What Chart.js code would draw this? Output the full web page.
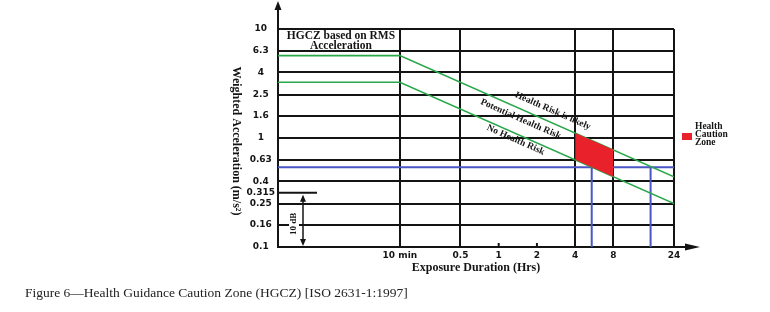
<!DOCTYPE html>
<html>
<head>
<meta charset="utf-8">
<script src="https://cdn.jsdelivr.net/npm/chart.js@4.4.1/dist/chart.umd.min.js"></script>
<style>
  html, body { margin: 0; padding: 0; background: #fff; }
  #wrap { width: 770px; height: 312px; }
</style>
</head>
<body>
<div id="wrap"><canvas id="hgczChart" width="770" height="312"></canvas></div>
<script>
// ticks: exposure duration in hours, weighted acceleration in m/s^2
const xTickValues = [10 / 60, 0.5, 1, 2, 4, 8, 24];
const xTickLabels = ['10 min', '0.5', '1', '2', '4', '8', '24'];
const yTickValues = [0.1, 0.16, 0.25, 0.315, 0.4, 0.63, 1, 1.6, 2.5, 4, 6.3, 10];
const yTickLabels = ['0.1', '0.16', '0.25', '0.315', '0.4', '0.63', '1', '1.6', '2.5', '4', '6.3', '10'];
const xMin = 0.0183;
const xMax = 24;

// HGCZ boundaries
const upperHours = [xMin, 10 / 60, 24];
const upperAccel = [5.7, 5.7, 0.44];
const lowerHours = [xMin, 10 / 60, 24];
const lowerAccel = [3.25, 3.25, 0.25];

// caution zone between 4 and 8 hours
const zoneHours = [4, 8];
const zoneTop = [1.11, 0.78];
const zoneBottom = [0.63, 0.44];

// blue reference level and where it meets the two boundaries
const refAccel = 0.54;
const refHours = [5.4, 15.7];

const riskLabels = ['Health Risk is likely', 'Potential Health Risk', 'No Health Risk'];

const pts = (xs, ys) => xs.map((x, i) => ({ x: x, y: ys[i] }));
const green = '#2aa74a';
const blue = '#4a55c6';
const ink = '#141414';

const lineSet = (label, data, color, width) => ({
    label: label,
    data: data,
    borderColor: color,
    borderWidth: width,
    pointRadius: 0,
    fill: false,
    tension: 0
});

const decor = {
    id: 'decor',
    afterDatasetsDraw(chart) {
        const { ctx, chartArea: a, scales: { x, y } } = chart;
        ctx.save();
        ctx.strokeStyle = ink;
        ctx.fillStyle = ink;
        ctx.lineWidth = 2;

        // axis arrows
        ctx.beginPath();
        ctx.moveTo(a.left, a.top);
        ctx.lineTo(a.left, 8);
        ctx.moveTo(a.right, a.bottom);
        ctx.lineTo(a.right + 14, a.bottom);
        ctx.stroke();
        ctx.beginPath();
        ctx.moveTo(a.left, 1);
        ctx.lineTo(a.left - 3.5, 10);
        ctx.lineTo(a.left + 3.5, 10);
        ctx.fill();
        ctx.beginPath();
        ctx.moveTo(a.right + 26, a.bottom);
        ctx.lineTo(a.right + 11, a.bottom - 3.5);
        ctx.lineTo(a.right + 11, a.bottom + 3.5);
        ctx.fill();

        // small ticks at 1 and 2 hours
        [1, 2].forEach(v => {
            const px = x.getPixelForValue(v);
            ctx.beginPath();
            ctx.moveTo(px, a.bottom);
            ctx.lineTo(px, a.bottom - 4);
            ctx.stroke();
        });

        // 10 dB marker
        const y315 = y.getPixelForValue(0.315);
        ctx.beginPath();
        ctx.moveTo(a.left, y315);
        ctx.lineTo(a.left + 39, y315);
        ctx.stroke();
        const ax = a.left + 25;
        ctx.lineWidth = 1.5;
        ctx.beginPath();
        ctx.moveTo(ax, y315 + 4);
        ctx.lineTo(ax, a.bottom - 4);
        ctx.stroke();
        ctx.beginPath();
        ctx.moveTo(ax, y315 + 2);
        ctx.lineTo(ax - 3, y315 + 9);
        ctx.lineTo(ax + 3, y315 + 9);
        ctx.fill();
        ctx.beginPath();
        ctx.moveTo(ax, a.bottom - 1);
        ctx.lineTo(ax - 3, a.bottom - 8);
        ctx.lineTo(ax + 3, a.bottom - 8);
        ctx.fill();
        const dbY = (y315 + a.bottom) / 2 + 4;
        ctx.fillStyle = '#fff';
        ctx.fillRect(ax - 14, dbY - 11, 10, 22);
        ctx.fillStyle = ink;
        ctx.save();
        ctx.translate(ax - 9, dbY);
        ctx.rotate(-Math.PI / 2);
        ctx.font = 'bold 9px "Liberation Serif"';
        ctx.textAlign = 'center';
        ctx.textBaseline = 'middle';
        ctx.fillText('10 dB', 0, 0);
        ctx.restore();

        // HGCZ box caption
        const boxRight = x.getPixelForValue(10 / 60);
        ctx.font = 'bold 11.5px "Liberation Serif"';
        ctx.textAlign = 'center';
        ctx.textBaseline = 'middle';
        ctx.fillText('HGCZ based on RMS', (a.left + boxRight) / 2 + 2, a.top + 7);
        ctx.fillText('Acceleration', (a.left + boxRight) / 2 + 2, a.top + 17);

        // risk labels along the boundaries
        const p0 = { x: x.getPixelForValue(10 / 60), y: y.getPixelForValue(upperAccel[1]) };
        const p1 = { x: x.getPixelForValue(24), y: y.getPixelForValue(upperAccel[2]) };
        const angle = Math.atan2(p1.y - p0.y, p1.x - p0.x);
        const spots = [[2.67, 1.77], [1.49, 1.49], [1.36, 0.96]];
        ctx.font = 'bold 9.5px "Liberation Serif"';
        riskLabels.forEach((t, i) => {
            ctx.save();
            ctx.translate(x.getPixelForValue(spots[i][0]), y.getPixelForValue(spots[i][1]));
            ctx.rotate(angle);
            ctx.fillText(t, 0, 0);
            ctx.restore();
        });

        // legend
        ctx.fillStyle = '#e8212b';
        ctx.fillRect(a.right + 8, 133, 10, 7);
        ctx.fillStyle = ink;
        ctx.font = 'bold 9.5px "Liberation Serif"';
        ctx.textAlign = 'left';
        ['Health', 'Caution', 'Zone'].forEach((t, i) => ctx.fillText(t, a.right + 21, 127 + i * 8));

        // axis titles
        ctx.font = 'bold 12px "Liberation Serif"';
        ctx.textAlign = 'center';
        ctx.fillText('Exposure Duration (Hrs)', 476, 268);
        ctx.save();
        ctx.translate(236, 141);
        ctx.rotate(Math.PI / 2);
        ctx.fillText('Weighted Acceleration (m/s\u00B2)', 0, 0);
        ctx.restore();

        // figure caption
        ctx.font = '13.5px "Liberation Serif"';
        ctx.fillStyle = '#222';
        ctx.textAlign = 'left';
        ctx.fillText('Figure 6\u2014Health Guidance Caution Zone (HGCZ) [ISO 2631-1:1997]', 25, 293);
        ctx.restore();
    }
};

new Chart(document.getElementById('hgczChart'), {
    type: 'line',
    data: {
        datasets: [
            {
                label: 'Health Caution Zone',
                data: pts(zoneHours, zoneTop),
                borderWidth: 0,
                borderColor: 'rgba(0,0,0,0)',
                backgroundColor: '#e8212b',
                pointRadius: 0,
                fill: '+1'
            },
            {
                label: 'zone bottom',
                data: pts(zoneHours, zoneBottom),
                borderWidth: 0,
                borderColor: 'rgba(0,0,0,0)',
                pointRadius: 0,
                fill: false
            },
            lineSet('upper', pts(upperHours, upperAccel), green, 1.6),
            lineSet('lower', pts(lowerHours, lowerAccel), green, 1.6),
            lineSet('reference', pts([xMin, xMax], [refAccel, refAccel]), blue, 2),
            lineSet('ref a', pts([refHours[0], refHours[0]], [refAccel, 0.1]), blue, 2),
            lineSet('ref b', pts([refHours[1], refHours[1]], [refAccel, 0.1]), blue, 2)
        ]
    },
    options: {
        responsive: false,
        animation: false,
        layout: { padding: { left: 244, top: 29, right: 96, bottom: 45 } },
        plugins: {
            legend: { display: false },
            tooltip: { enabled: false }
        },
        scales: {
            x: {
                type: 'logarithmic',
                min: xMin,
                max: xMax,
                afterBuildTicks: s => { s.ticks = xTickValues.map(v => ({ value: v })); },
                afterFit: s => { s.height = 20; },
                grid: {
                    color: c => (c.tick && (c.tick.value === 1 || c.tick.value === 2)) ? 'rgba(0,0,0,0)' : ink,
                    lineWidth: 2,
                    drawTicks: false
                },
                border: { color: ink, width: 2 },
                ticks: {
                    padding: 3,
                    autoSkip: false,
                    maxRotation: 0,
                    color: ink,
                    font: { family: 'DejaVu Sans', weight: 'bold', size: 9 },
                    callback: (v, i) => xTickLabels[i]
                }
            },
            y: {
                type: 'logarithmic',
                min: 0.1,
                max: 10,
                afterBuildTicks: s => { s.ticks = yTickValues.map(v => ({ value: v })); },
                afterFit: s => { s.width = 34; },
                grid: {
                    color: c => (c.tick && c.tick.value === 0.315) ? 'rgba(0,0,0,0)' : ink,
                    lineWidth: 2,
                    drawTicks: false
                },
                border: { color: ink, width: 2 },
                ticks: {
                    padding: 3,
                    crossAlign: 'center',
                    autoSkip: false,
                    color: ink,
                    font: { family: 'DejaVu Sans', weight: 'bold', size: 9 },
                    callback: (v, i) => yTickLabels[i]
                }
            }
        }
    },
    plugins: [decor]
});
</script>
</body>
</html>
